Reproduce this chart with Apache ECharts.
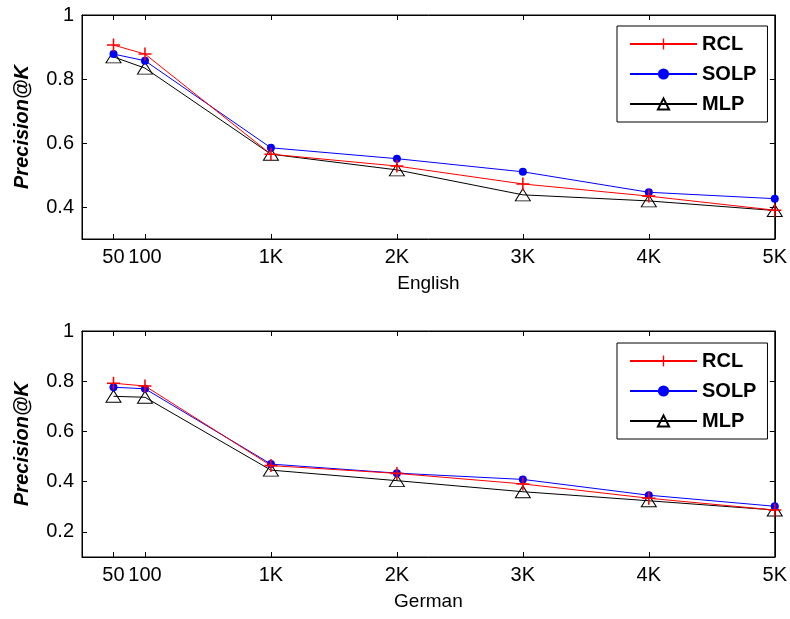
<!DOCTYPE html>
<html>
<head>
<meta charset="utf-8">
<script src="https://cdn.jsdelivr.net/npm/echarts@6/dist/echarts.min.js"></script>
<style>
html,body{margin:0;padding:0;background:#fff;}
#chart{width:790px;height:619px;}
</style>
</head>
<body>
<div id="chart"></div>
<script>
// ---- data ----
const xPositions = [-250, 0, 1000, 2000, 3000, 4000, 5000];
const xLabels = ['50', '100', '1K', '2K', '3K', '4K', '5K'];
const seriesNames = ['RCL', 'SOLP', 'MLP'];
const panelNames = ['English', 'German'];
const enRCL  = [0.906, 0.878, 0.565, 0.528, 0.472, 0.434, 0.390];
const enSOLP = [0.878, 0.857, 0.585, 0.551, 0.510, 0.446, 0.426];
const enMLP  = [0.869, 0.834, 0.565, 0.516, 0.438, 0.419, 0.389];
const deRCL  = [0.792, 0.781, 0.464, 0.433, 0.391, 0.334, 0.287];
const deSOLP = [0.776, 0.770, 0.470, 0.434, 0.409, 0.346, 0.302];
const deMLP  = [0.740, 0.736, 0.446, 0.404, 0.360, 0.324, 0.287];
const enYTicks = [0.4, 0.6, 0.8, 1];
const deYTicks = [0.2, 0.4, 0.6, 0.8, 1];
const yRanges = [[0.3, 1], [0.1, 1]];

// ---- styles ----
const FONT = 'Liberation Sans, Arial, sans-serif';
const colors = ['#ff0000', '#0000ff', '#000000'];
const plusPath = 'path://M4.4,0h1.2v10h-1.2zM0,4.4h10v1.2h-10z';
const symbols = [plusPath, 'circle', 'triangle'];
const symbolSizes = [13, 8, [15, 12]];

const grids = [
  {left: 82, top: 15, width: 694, height: 224, show: true, borderColor: '#000', borderWidth: 1},
  {left: 82, top: 331, width: 694, height: 226, show: true, borderColor: '#000', borderWidth: 1}
];

function pairs(vals) { return xPositions.map((x, i) => [x, vals[i]]); }
const panelData = [[enRCL, enSOLP, enMLP], [deRCL, deSOLP, deMLP]];
const panelYTicks = [enYTicks, deYTicks];

const xAxes = [], yAxes = [], series = [], legends = [];
[0, 1].forEach(p => {
  xAxes.push({
    type: 'value', gridIndex: p, min: -500, max: 5000, position: 'bottom',
    name: panelNames[p], nameLocation: 'middle', nameGap: 35,
    nameTextStyle: {fontFamily: FONT, fontSize: 19, color: '#000'},
    axisLine: {show: true, onZero: false, lineStyle: {color: '#000', width: 1}},
    axisTick: {show: true, inside: true, length: 5, customValues: xPositions, lineStyle: {color: '#000'}},
    axisLabel: {show: true, customValues: xPositions, margin: 8, fontFamily: FONT, fontSize: 20, color: '#000',
      formatter: v => { const i = xPositions.indexOf(v); return i >= 0 ? xLabels[i] : ''; }},
    splitLine: {show: false}
  });
  xAxes.push({
    type: 'value', gridIndex: p, min: -500, max: 5000, position: 'top',
    axisLine: {show: true, onZero: false, lineStyle: {color: '#000', width: 1}},
    axisTick: {show: true, inside: true, length: 5, customValues: xPositions, lineStyle: {color: '#000'}},
    axisLabel: {show: false},
    splitLine: {show: false}
  });
  yAxes.push({
    type: 'value', gridIndex: p, min: yRanges[p][0], max: yRanges[p][1], position: 'left',
    name: 'Precision@K', nameLocation: 'middle', nameGap: 50,
    nameTextStyle: {fontFamily: FONT, fontSize: 20, fontWeight: 'bold', fontStyle: 'italic', color: '#000'},
    axisLine: {show: true, onZero: false, lineStyle: {color: '#000', width: 1}},
    axisTick: {show: true, inside: true, length: 5, customValues: panelYTicks[p], lineStyle: {color: '#000'}},
    axisLabel: {show: true, customValues: panelYTicks[p], margin: 8, fontFamily: FONT, fontSize: 20, color: '#000',
      formatter: v => String(+v.toFixed(2))},
    splitLine: {show: false}
  });
  yAxes.push({
    type: 'value', gridIndex: p, min: yRanges[p][0], max: yRanges[p][1], position: 'right',
    axisLine: {show: true, onZero: false, lineStyle: {color: '#000', width: 1}},
    axisTick: {show: true, inside: true, length: 5, customValues: panelYTicks[p], lineStyle: {color: '#000'}},
    axisLabel: {show: false},
    splitLine: {show: false}
  });
  seriesNames.forEach((name, s) => {
    series.push({
      name: name, type: 'line', xAxisIndex: p * 2, yAxisIndex: p * 2,
      data: pairs(panelData[p][s]),
      symbol: symbols[s], symbolSize: symbolSizes[s], showAllSymbol: true,
      lineStyle: {color: colors[s], width: 1},
      itemStyle: s === 2 ? {color: 'rgba(0,0,0,0)', borderColor: '#000', borderWidth: 1}
                         : {color: colors[s], borderWidth: 0},
      z: 3 - s + 2,
      animation: false
    });
  });
  legends.push({
    data: seriesNames, orient: 'vertical',
    left: 617, top: p === 0 ? 26 : 343,
    itemWidth: 67, itemHeight: 14, itemGap: 10,
    padding: [8, 11, 8, 12],
    borderColor: '#000', borderWidth: 1, backgroundColor: '#fff',
    textStyle: {fontFamily: FONT, fontSize: 20, fontWeight: 'bold', color: '#000'},
    selectedMode: false
  });
});

const chart = echarts.init(document.getElementById('chart'), null, {renderer: 'canvas'});
chart.setOption({
  animation: false,
  backgroundColor: '#fff',
  grid: grids,
  xAxis: xAxes,
  yAxis: yAxes,
  legend: legends,
  series: series
});
</script>
</body>
</html>
